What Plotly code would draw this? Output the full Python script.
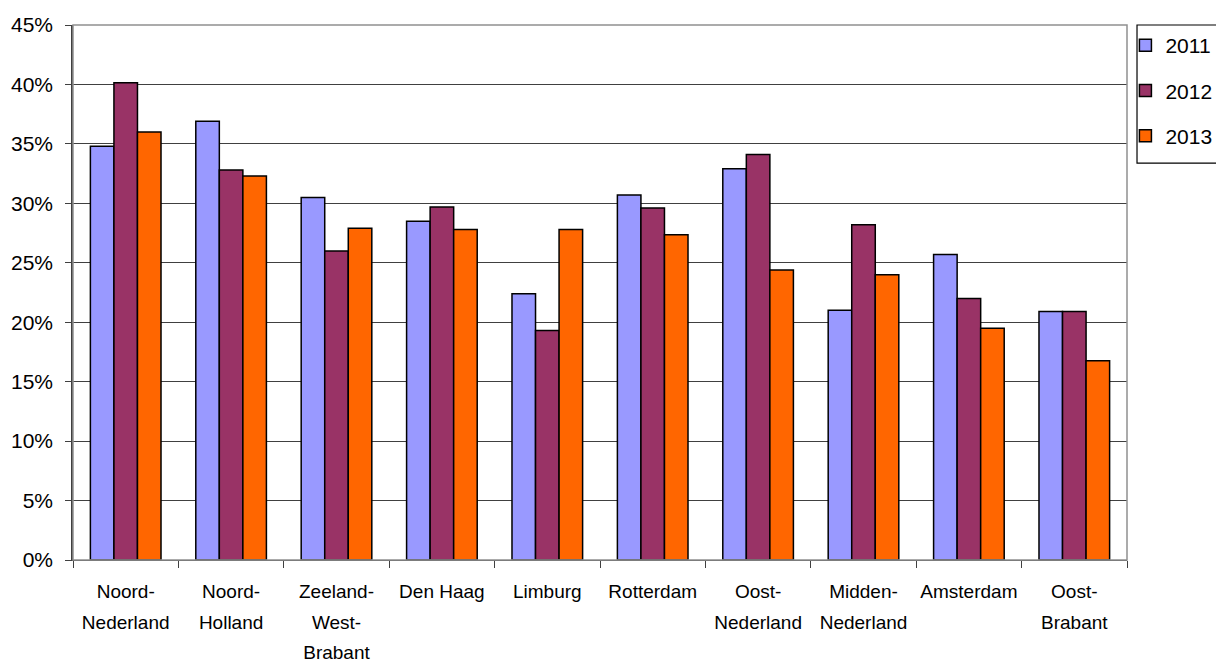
import plotly.graph_objects as go

categories = ["Noord-<br>Nederland", "Noord-<br>Holland", "Zeeland-<br>West-<br>Brabant", "Den Haag",
              "Limburg", "Rotterdam", "Oost-<br>Nederland", "Midden-<br>Nederland", "Amsterdam",
              "Oost-<br>Brabant"]
years = ["2011", "2012", "2013"]
v2011 = [34.8, 36.9, 30.5, 28.5, 22.4, 30.7, 32.9, 21.0, 25.7, 20.9]
v2012 = [40.15, 32.8, 26.0, 29.7, 19.3, 29.6, 34.1, 28.2, 22.0, 20.9]
v2013 = [36.0, 32.3, 27.9, 27.8, 27.8, 27.35, 24.4, 24.0, 19.5, 16.75]
colors = ["#9999FF", "#993366", "#FF6600"]
yticks = [0, 5, 10, 15, 20, 25, 30, 35, 40, 45]
ytick_labels = [f"{t}%" for t in yticks]

cat_keys = list(range(len(categories)))
cat_text = [f'<span style="font-size:19px">{c}</span>' for c in categories]

fig = go.Figure()
for name, vals, col in zip(years, [v2011, v2012, v2013], colors):
    fig.add_trace(go.Bar(
        x=cat_keys, y=vals, name=name, legendgroup=name,
        marker=dict(color=col, line=dict(color="#000000", width=1.5)),
    ))

fig.update_layout(
    width=1216, height=659,
    margin=dict(l=73, r=89, t=25, b=99, autoexpand=False),
    paper_bgcolor="white", plot_bgcolor="white",
    barmode="group", bargap=0.33, bargroupgap=0,
    font=dict(family="Liberation Sans, Arial, sans-serif", color="black"),
    showlegend=True,
    legend=dict(
        x=0.9985, xanchor="left", y=1.0, yanchor="top",
        borderwidth=0, bgcolor="rgba(0,0,0,0)",
        font=dict(size=21, color="black"),
        traceorder="grouped", tracegroupgap=15,
        itemwidth=30,
    ),
)
fig.update_xaxes(
    tickmode="array", tickvals=cat_keys, ticktext=cat_text,
    tickfont=dict(size=23.5, family="Liberation Sans, Arial, sans-serif", color="black"),
    range=[-0.5, len(categories) - 0.5],
    showline=True, linecolor="#404040", linewidth=1, mirror=False,
    ticks="", showgrid=False, ticklabelstandoff=9,
    tickangle=0,
)
fig.update_xaxes(minor=dict(ticks="outside", ticklen=7, tickcolor="#404040",
                            tickmode="array", tickvals=[i - 0.5 for i in range(len(categories) + 1)]))
fig.update_yaxes(
    range=[0, 45], tickmode="array", tickvals=yticks, ticktext=ytick_labels,
    tickfont=dict(size=21, color="black"),
    showline=True, linecolor="#404040", linewidth=1.5,
    ticks="outside", ticklen=6, tickcolor="#404040",
    showgrid=True, gridcolor="#404040", gridwidth=1.2,
    zeroline=False, ticklabelstandoff=8,
)
# plot-area frame
fig.add_shape(type="rect", xref="paper", yref="paper", x0=0, x1=1, y0=0, y1=1,
              line=dict(color="#909090", width=1.5), fillcolor="rgba(0,0,0,0)", layer="above")
# legend frame
fig.add_shape(type="rect", xref="paper", yref="paper", x0=1.0095, x1=1.2, y0=0.742, y1=1.0,
              line=dict(color="black", width=1.2), fillcolor="rgba(0,0,0,0)", layer="above")
fig.write_html("out.html", config={"displayModeBar": False},
               post_script="document.body.style.margin='0';document.body.style.overflow='hidden';")
